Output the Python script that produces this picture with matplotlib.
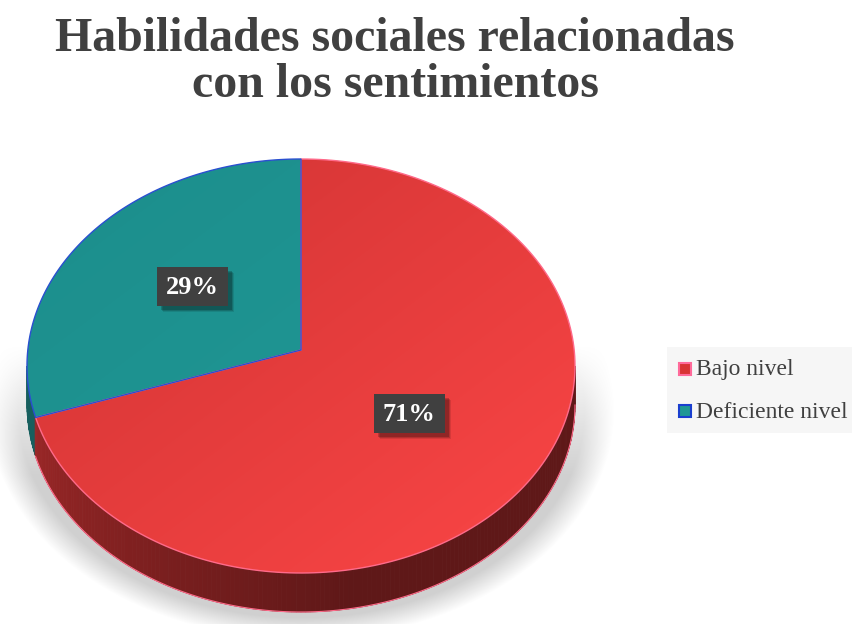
import numpy as np
import matplotlib.pyplot as plt
from matplotlib import font_manager as fm
from matplotlib.patches import Polygon, Rectangle
from matplotlib.colors import to_rgb

categorias = ['Bajo nivel', 'Deficiente nivel']
valores = [71, 29]
etiquetas = ['71%', '29%']
titulo = 'Habilidades sociales relacionadas\ncon los sentimientos'

# serif face close to Times New Roman
nombres = {f.name for f in fm.fontManager.ttflist}
serif = next((n for n in ['Liberation Serif', 'Times New Roman', 'DejaVu Serif']
              if n in nombres), 'serif')
plt.rcParams['font.family'] = [serif, 'DejaVu Serif']

fig = plt.figure(figsize=(8.52, 6.24), dpi=100)
ax = fig.add_axes([0, 0, 1, 1])
ax.set_xlim(0, 852)
ax.set_ylim(624, 0)
ax.axis('off')

# geometry of the tilted pie (pixel units, y down)
cx, cy, a, b = 301, 366, 274, 207
vy = 350          # apex of the slices sits a bit above the ellipse centre
depth = 39


def borde(t0, t1, n=200, dy=0):
    t = np.radians(np.linspace(t0, t1, n))
    return np.column_stack([cx + a * np.cos(t), cy - b * np.sin(t) + dy])


# soft shadow under the pie
yy, xx = np.mgrid[0:624, 0:852]
d = np.sqrt(((xx - cx) / 298.0) ** 2 + ((yy - 410) / 218.0) ** 2)
alfa = np.clip((1.05 - d) / 0.10, 0, 1) * np.clip((yy - 345) / 130.0, 0, 1)
sombra = np.zeros((624, 852, 4))
sombra[..., :3] = 0.74
sombra[..., 3] = alfa * 0.7
ax.imshow(sombra, extent=(0, 852, 624, 0), zorder=0, interpolation='bilinear')

# slice angles: teal starts at 12 o'clock going counter-clockwise
frac = np.array(valores[::-1], dtype=float) / sum(valores)
t_teal = (90, 90 + 360 * frac[0])
t_rojo = (t_teal[1], 450)

# side wall, drawn in thin strips so it can shade from left to right
pasos = np.linspace(180, 360, 181)
for t0, t1 in zip(pasos[:-1], pasos[1:]):
    top = borde(t0, t1, 4)
    bot = borde(t1, t0, 4, dy=depth)
    if t1 <= t_teal[1]:
        col = '#175f5e'
    else:
        s = np.clip((t0 - 190) / 90.0, 0, 1)
        c0, c1 = np.array(to_rgb('#9c2727')), np.array(to_rgb('#5f1818'))
        col = c0 + (c1 - c0) * s
    ax.add_patch(Polygon(np.vstack([top, bot]), closed=True, fc=col,
                         ec=col, lw=0.6, zorder=2))
ax.plot(*borde(t_teal[1], 360, dy=depth).T, color='#ff6a8a', lw=0.8, zorder=3)


def cara(t0, t1, c_a, c_b, borde_col):
    pts = np.vstack([[cx, vy], borde(t0, t1)])
    poly = Polygon(pts, closed=True, fc='none', ec=borde_col, lw=1.0, zorder=5)
    ax.add_patch(poly)
    g = np.linspace(0, 1, 256)
    gx, gy = np.meshgrid(g, g)
    w = (gx + gy) / 2
    ca, cb = np.array(to_rgb(c_a)), np.array(to_rgb(c_b))
    img = ca + (cb - ca) * w[..., None]
    im = ax.imshow(img, extent=(cx - a, cx + a, cy + b, cy - b), zorder=4,
                   interpolation='bilinear')
    im.set_clip_path(poly)


cara(*t_rojo, '#cf3333', '#fb4646', '#ff6a8a')
cara(*t_teal, '#1c8e8c', '#219a98', '#2a4fd0')

# percentage labels on dark boxes
for val, lab, (t0, t1) in zip(valores, etiquetas, [t_rojo, t_teal]):
    tm = np.radians((t0 + t1) / 2)
    lx = cx + 0.5 * a * np.cos(tm)
    ly = vy - 0.5 * b * np.sin(tm)
    w, h = 71, 39
    for k, al in [(6, 0.10), (5, 0.15), (4, 0.2)]:
        ax.add_patch(Rectangle((lx - w / 2 + k, ly - h / 2 + k), w, h,
                               fc='black', ec='none', alpha=al, zorder=6))
    ax.add_patch(Rectangle((lx - w / 2, ly - h / 2), w, h, fc='#404040',
                           ec='none', zorder=7))
    ax.text(lx, ly + 1, lab, ha='center', va='center', color='white',
            fontsize=19, fontweight='bold', zorder=8)

ax.text(395, 62, titulo, ha='center', va='center', fontsize=34.5,
        fontweight='bold', color='#404040', linespacing=1.05)

# legend
ax.add_patch(Rectangle((667, 347), 185, 86, fc='#f6f6f6', ec='none', zorder=1))
leg = [('#d83434', '#ff6a9a'), ('#1f9795', '#1a3fcf')]
for i, (nom, (fc, ec)) in enumerate(zip(categorias, leg)):
    y = 369 + i * 42
    ax.add_patch(Rectangle((679, y - 6), 12, 12, fc=fc, ec=ec, lw=1.5, zorder=2))
    ax.text(696, y + 1, nom, ha='left', va='center', fontsize=17,
            color='#404040', zorder=2)

fig.savefig('out.png', dpi=100)
